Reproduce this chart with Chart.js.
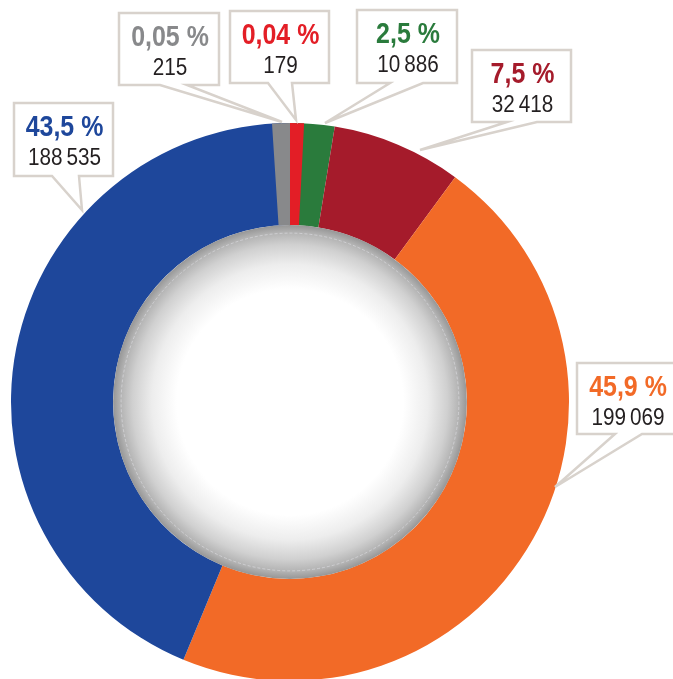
<!DOCTYPE html>
<html>
<head>
<meta charset="utf-8">
<script src="https://cdn.jsdelivr.net/npm/chart.js@4/dist/chart.umd.min.js"></script>
<style>
  html, body { margin: 0; padding: 0; background: #fff; overflow: hidden; }
  #wrap { position: relative; width: 673px; height: 690px; }
</style>
</head>
<body>
<div id="wrap"><canvas id="donut" width="673" height="690"></canvas></div>
<script>
// slices, clockwise from 12 o'clock
const categories = ['rouge', 'vert', 'bordeaux', 'orange', 'bleu', 'gris'];
const counts = [179, 10886, 32418, 199069, 188535, 215];
const shares = ['0,04 %', '2,5 %', '7,5 %', '45,9 %', '43,5 %', '0,05 %'];
const colors = ['#e31e26', '#2a7b3c', '#a51b2b', '#f26a27', '#1e479b', '#88898b'];

// callout boxes: [x, y, w, h], tail base [x1, x2] on the bottom edge, tail tip [x, y]
const callouts = [
  { box: [230, 11, 99, 72], base: [268, 292], tip: [296, 120] },
  { box: [357, 10, 100, 73], base: [390, 423], tip: [325, 123] },
  { box: [472, 50, 99, 72], base: [507, 537], tip: [420, 150] },
  { box: [577, 363, 100, 71], base: [615, 642], tip: [555, 487] },
  { box: [14, 103, 99, 73], base: [52, 79], tip: [82, 210] },
  { box: [119, 13, 100, 72], base: [160, 187], tip: [282, 122] }
];

// tiny slices get a minimum visible width, grown from one of their edges
const minSlice = { 0: { deg: 2.9, from: 'start' }, 5: { deg: 3.7, from: 'end' } };

const fmt = n => String(n).replace(/\B(?=(\d{3})+(?!\d))/g, '\u2009');
const FONT = "'Liberation Sans', Arial, sans-serif";

// condensed look: squeeze the text horizontally
function narrowText(ctx, text, x, y, squeeze) {
  ctx.save();
  ctx.translate(x, y);
  ctx.scale(squeeze, 1);
  ctx.fillText(text, 0, 0);
  ctx.restore();
}

const slivers = {
  id: 'slivers',
  afterDatasetsDraw(chart) {
    const ctx = chart.ctx;
    const meta = chart.getDatasetMeta(0);
    Object.keys(minSlice).forEach(k => {
      const el = meta.data[k];
      const rule = minSlice[k];
      const w = rule.deg * Math.PI / 180;
      let a0, a1;
      if (rule.from === 'start') { a0 = el.startAngle; a1 = Math.max(el.endAngle, a0 + w); }
      else { a1 = el.endAngle; a0 = Math.min(el.startAngle, a1 - w); }
      ctx.save();
      ctx.fillStyle = colors[k];
      ctx.beginPath();
      ctx.arc(el.x, el.y, el.outerRadius, a0, a1);
      ctx.arc(el.x, el.y, el.innerRadius, a1, a0, true);
      ctx.closePath();
      ctx.fill();
      ctx.restore();
    });

    // shaded hole
    const el = meta.data[0];
    const r = el.innerRadius;
    const g = ctx.createRadialGradient(el.x, el.y, 0, el.x, el.y, r);
    g.addColorStop(0, '#ffffff');
    g.addColorStop(0.64, '#ffffff');
    g.addColorStop(0.78, '#ededed');
    g.addColorStop(0.89, '#d0d0d0');
    g.addColorStop(0.96, '#b2b2b2');
    g.addColorStop(1, '#969696');
    ctx.save();
    ctx.fillStyle = g;
    ctx.beginPath();
    ctx.arc(el.x, el.y, r, 0, Math.PI * 2);
    ctx.fill();
    ctx.strokeStyle = 'rgba(225,225,232,0.55)';
    ctx.lineWidth = 1;
    ctx.setLineDash([3, 2]);
    ctx.beginPath();
    ctx.arc(el.x, el.y, r - 8, 0, Math.PI * 2);
    ctx.stroke();
    ctx.restore();
  }
};

const labels = {
  id: 'callouts',
  afterDraw(chart) {
    const ctx = chart.ctx;
    callouts.forEach((c, i) => {
      const [x, y, w, h] = c.box;
      const b = y + h;
      ctx.save();
      ctx.beginPath();
      ctx.moveTo(x, y);
      ctx.lineTo(x + w, y);
      ctx.lineTo(x + w, b);
      ctx.lineTo(c.base[1], b);
      ctx.lineTo(c.tip[0], c.tip[1]);
      ctx.lineTo(c.base[0], b);
      ctx.lineTo(x, b);
      ctx.closePath();
      ctx.fillStyle = '#fff';
      ctx.fill();
      ctx.lineWidth = 2.5;
      ctx.lineJoin = 'miter';
      ctx.strokeStyle = '#d8d2cc';
      ctx.stroke();

      const cx = x + w / 2 + 1;
      ctx.textAlign = 'center';
      ctx.textBaseline = 'alphabetic';
      ctx.fillStyle = colors[i];
      ctx.font = 'bold 29px ' + FONT;
      narrowText(ctx, shares[i], cx, y + 33, 0.86);
      ctx.fillStyle = '#231f20';
      ctx.font = '23px ' + FONT;
      narrowText(ctx, fmt(counts[i]), cx, y + 62, 0.9);
      ctx.restore();
    });
  }
};

new Chart(document.getElementById('donut'), {
  type: 'doughnut',
  data: {
    labels: categories,
    datasets: [{
      data: counts,
      backgroundColor: colors,
      borderWidth: 0
    }]
  },
  options: {
    responsive: false,
    animation: false,
    cutout: '63.4%',
    layout: { padding: { left: 11, top: 123, right: 104, bottom: 9 } },
    plugins: { legend: { display: false }, tooltip: { enabled: false } }
  },
  plugins: [slivers, labels]
});
</script>
</body>
</html>
